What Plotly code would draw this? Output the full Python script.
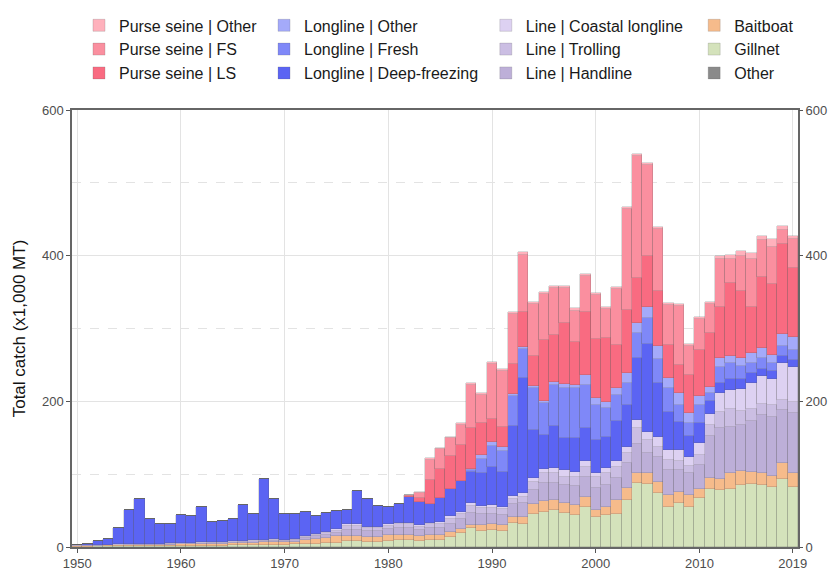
import plotly.graph_objects as go

years = list(range(1950, 2020))

other = [0.2]*8 + [0.3]*62

gillnet = [0.3,0.4,0.5,0.6,0.7,0.8,0.9,1.0,1.0,1.1,
           1.2,1.3,1.5,1.6,1.7,1.9,2.1,2.3,2.5,2.7,
           2.9,3.2,3.7,4.2,4.7,5.7,7.7,7.7,6.7,6.7,
           7.7,8.7,8.7,7.7,8.7,8.7,13.7,18.7,25.7,21.7,
           22.7,21.7,32.2,30.7,45.7,48.2,50.5,46.7,43.7,55.0,
           41.3,43.7,45.7,64.2,87.1,86.2,73.4,55.0,59.7,55.0,
           66.5,79.7,77.7,79.7,84.7,85.7,84.7,82.7,93.7,81.7]

baitboat = [1.0,1.1,1.2,1.3,1.4,1.5,1.6,1.7,1.8,1.9,
            2.0,2.2,2.4,2.5,2.7,2.9,3.1,3.3,3.5,3.7,
            3.5,4.0,5.5,7.0,8.0,8.5,7,7,7,7,
            8,8,8,7,8,7,6,6,4,8,
            9,8,9,10.6,13,15,13.7,13,13.7,13.7,
            9.2,11.3,18.5,16.1,13.6,14.5,16,16.1,16,16.1,
            12.4,15,16,22,20,17,16,14,21,19]

handline = [0.5,0.6,0.6,0.7,0.7,0.8,0.8,0.9,0.9,1.0,
            1.0,1.1,1.2,1.3,1.4,1.5,1.6,1.8,2.0,2.1,
            2.0,2.3,3.0,3.5,4.0,5.0,9,9,8,8,
            9,9,9,9,9,10,12,13,17,15,
            14,14,17,18.4,19,24,23,25,26.3,27.5,
            30,30,30,34.4,40,27.6,34.3,34.3,30,30,
            33.4,58,69,63,62,70,80,82,73,83]

trolling = [0.3,0.3,0.4,0.4,0.4,0.5,0.5,0.5,0.5,0.6,
            0.6,0.6,0.7,0.7,0.8,0.8,0.9,1.0,1.1,1.1,
            1.0,1.2,1.5,2.0,2.5,3.0,5,5,4,4,
            4,5,5,4,5,6,7,7,9,8,
            8,8,8,8,11.7,13.6,13.6,11.5,12.5,13.5,
            15.7,15.7,15.5,13.6,23,18.4,13.7,13.8,12,10,
            13.7,14,23,25,20,17,16,16,14,15]

coastal_ll = [0.2,0.2,0.2,0.2,0.2,0.2,0.2,0.2,0.3,0.3,
              0.3,0.3,0.3,0.3,0.4,0.4,0.4,0.5,0.5,0.5,
              0.5,0.6,0.8,1.0,1.5,2.0,2,2,2,2,
              2,2,2,2,2,2,3,3,4,3,
              3,3,4,5.7,4.6,5.6,6.9,9.2,6.9,8,
              5.5,7,8.5,8.3,10.4,11.3,14,13.5,15,12,
              16.1,15,25,25,30,35,38,35,50,48]

ll_deepfreezing = [0,0.7,4.9,7.6,22.9,47,61.8,34.5,26.2,25.8,
                   38.6,36.7,48.6,28.3,28.7,30.2,48.6,36.8,83.1,55.6,
                   35.8,34.4,32.7,25,26,24.5,20,46,37.5,28,
                   23.5,26,36,32,26,33,38,42,43,45,
                   53,48,95.5,158.8,66.3,47,58,44.3,45.6,45.8,
                   45,43.5,54.9,58.1,84.6,120,74,52.8,39,28.6,
                   27.6,18,14,15,14,14,10,12,10,10]

ll_fresh = [0]*38 + [3,20,
            28,29,41.8,39.3,57.4,44.3,56.4,69,69,58.6,
            48,38.9,35.3,29.7,34.4,35.7,32,32.2,23,18,
            25,12,22,22,18,14,14,11,14,13]

ll_other = [0]*38 + [1,5,
            5.7,5.7,2.2,3.2,3,2,3.6,4.8,4.4,13.6,
            9,9.1,9.3,13.8,14.6,16,18.3,14,16,14,
            13,8,13,10,11,14,14,11,17,18]

ps_ls = [0]*32 + [1,5,33,40,45,50,56,44,
         32,27.3,41,47,41.7,84,65,84.2,59.6,87,
         81,87,59,87.5,61,70,75.5,45.4,39,52,
         62,74,70,100,92,63,98,97,123,95]

ps_fs = [0]*32 + [1.5,7,28,27,24.5,28,59,39,
         75,76,69,79,71,63.6,64.8,47.8,42.7,48.6,
         61,40.5,77.5,137.4,167.6,124.7,85.3,54.2,80.7,39.3,
         42.4,39,66,34,48,66,50,51,19.5,40]

ps_other = [0]*32 + [0.5,1,2,2,2,2,3,3,
            3,3,3,3.6,3,3,3,3,3,3,
            3,3,3,3,3,3,3,3,3,3,
            3,3,4,5,6,8,6.5,11,5.5,4.5]

series = [
    ("Other", other, "#8a8a8a", "legend4"),
    ("Gillnet", gillnet, "#d4e2bb", "legend4"),
    ("Baitboat", baitboat, "#f6bb8b", "legend4"),
    ("Line | Handline", handline, "#bdafd8", "legend3"),
    ("Line | Trolling", trolling, "#cbbee3", "legend3"),
    ("Line | Coastal longline", coastal_ll, "#ddd1f2", "legend3"),
    ("Longline | Deep-freezing", ll_deepfreezing, "#5b64f3", "legend2"),
    ("Longline | Fresh", ll_fresh, "#7f88f8", "legend2"),
    ("Longline | Other", ll_other, "#a4aafa", "legend2"),
    ("Purse seine | LS", ps_ls, "#f96b81", "legend"),
    ("Purse seine | FS", ps_fs, "#fa8f9f", "legend"),
    ("Purse seine | Other", ps_other, "#ffb1bc", "legend"),
]

fig = go.Figure()
for name, vals, col, lg in series:
    fig.add_trace(go.Bar(
        x=years, y=vals, name=name, legend=lg,
        marker=dict(color=col, line=dict(color="rgba(90,90,90,0.35)", width=0.6)),
        width=1.0,
    ))

# invisible trace to anchor the right-hand axis
fig.add_trace(go.Scatter(x=[1950], y=[0], yaxis="y2", showlegend=False,
                         mode="markers", marker=dict(opacity=0), hoverinfo="skip"))

FONT = "Arial, Liberation Sans, sans-serif"
tick_font = dict(family=FONT, size=13, color="#4d4d4d")
leg_font = dict(family=FONT, size=16, color="#1a1a1a")

legend_common = dict(y=1.2325, xanchor="left", yanchor="top", traceorder="reversed",
                     font=leg_font, bgcolor="rgba(0,0,0,0)")

# the page body adds an 8px offset, so margins are set to put the plot
# area at the same window position as the reference
fig.update_layout(
    width=837, height=570,
    margin=dict(l=64, r=47, t=102, b=31, autoexpand=False),
    barmode="stack", bargap=0,
    plot_bgcolor="white", paper_bgcolor="white",
    xaxis=dict(
        range=[1949.5, 2019.5], automargin=False,
        tickmode="array", tickvals=[1950,1960,1970,1980,1990,2000,2010,2019],
        ticks="outside", ticklen=4, tickcolor="#555555",
        showline=True, linecolor="#666666", linewidth=1.5, mirror=True,
        showgrid=True, gridcolor="#e3e3e3", gridwidth=1,
        tickfont=tick_font, zeroline=False,
    ),
    yaxis=dict(
        range=[0, 600], tickvals=[0,200,400,600], automargin=False,
        ticks="outside", ticklen=4, tickcolor="#555555",
        showline=True, linecolor="#666666", linewidth=1.5, mirror=True,
        showgrid=True, gridcolor="#e3e3e3", gridwidth=1,
        minor=dict(tickvals=[100,300,500], showgrid=True, gridcolor="#e3e3e3",
                   griddash="dash", gridwidth=1, ticks=""),
        tickfont=tick_font, zeroline=False,
        title=dict(text="Total catch (x1,000 MT)",
                   font=dict(family=FONT, size=17, color="#111111"),
                   standoff=12),
    ),
    yaxis2=dict(
        range=[0, 600], tickvals=[0,200,400,600], overlaying="y", side="right",
        automargin=False,
        ticks="outside", ticklen=4, tickcolor="#555555",
        showline=False, showgrid=False, zeroline=False, tickfont=tick_font,
    ),
    legend=dict(x=0.0096, **legend_common),
    legend2=dict(x=0.2645, **legend_common),
    legend3=dict(x=0.570, **legend_common),
    legend4=dict(x=0.857, **legend_common),
)

fig.write_html("out.html")
